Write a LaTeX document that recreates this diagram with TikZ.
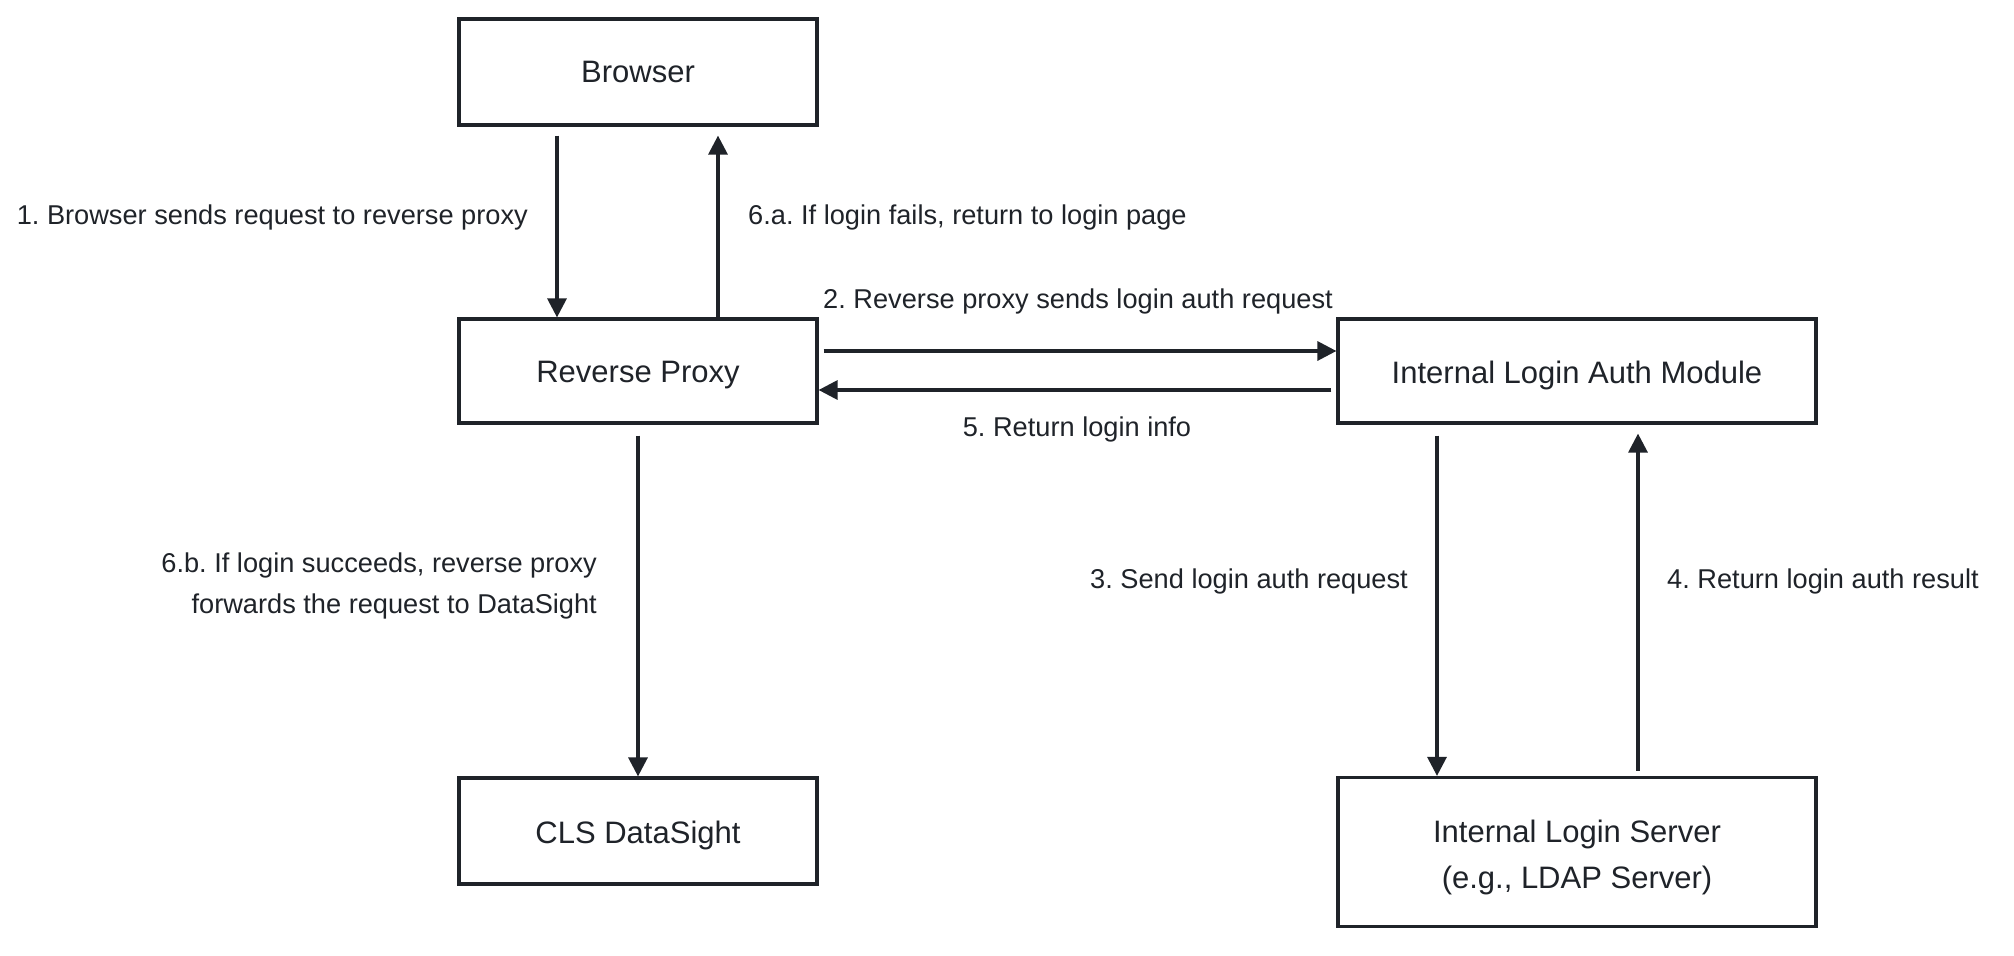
\documentclass[tikz,border=0pt]{standalone}
\usepackage{fontspec}
\setmainfont{Liberation Sans}
\usetikzlibrary{arrows.meta,calc}
\definecolor{ink}{HTML}{1F2329}
\frenchspacing
\newcommand{\lowtext}[1]{\raisebox{-4pt}[\height][\depth]{#1}}
\begin{document}
\begin{tikzpicture}[x=1pt,y=-1pt,
  box/.style={draw=ink,line width=3.2pt,rectangle,text=ink,font=\fontsize{31}{46}\selectfont,align=center,inner sep=0pt},
  arr/.style={draw=ink,line width=3.2pt,-{Triangle[length=19pt,width=19pt]}},
  lbl/.style={text=ink,font=\fontsize{27.2}{41}\selectfont,inner sep=0pt}]
\useasboundingbox[fill=white] (0,0) rectangle (2014,956);
\node[box,minimum width=358pt,minimum height=106pt] (browser) at (638,72) {Browser};
\node[box,minimum width=358pt,minimum height=104pt] (proxy) at (638,371) {\lowtext{Reverse Proxy}};
\node[box,minimum width=358pt,minimum height=106pt] (cls) at (638,831) {\lowtext{CLS DataSight}};
\node[box,minimum width=478pt,minimum height=104pt] (auth) at (1577,371) {\lowtext{Internal Login Auth Module}};
\node[box,minimum width=478pt,minimum height=149pt] (server) at (1577,852) {\raisebox{-4pt}[\height][\depth]{\begin{tabular}{@{}c@{}}Internal Login Server\\(e.g., LDAP Server)\end{tabular}}};

\draw[arr] ($(browser.south)+(-81,9)$) -- ($(proxy.north)+(-81,0)$);
\draw[arr] ($(proxy.north)+(80,0)$) -- ($(browser.south)+(80,9)$);
\draw[arr] ($(proxy.east)+(5,-20)$) -- ($(auth.west)+(0,-20)$);
\draw[arr] ($(auth.west)+(-5,19)$) -- ($(proxy.east)+(0,19)$);
\draw[arr] ($(proxy.south)+(0,11)$) -- (cls.north);
\draw[arr] ($(auth.south)+(-140,11)$) -- ($(server.north)+(-140,0)$);
\draw[arr] ($(server.north)+(61,-5)$) -- ($(auth.south)+(61,9)$);

\node[lbl,anchor=base east] (l1) at (528,224) {1. Browser sends request to reverse proxy};
\node[lbl,anchor=base west] (l6a) at (748,224) {6.a. If login fails, return to login page};
\node[lbl,anchor=base] (l2) at (1078,308) {2. Reverse proxy sends login auth request};
\node[lbl,anchor=base] (l5) at (1077,436) {5. Return login info};
\node[lbl,anchor=east,align=right] (l6b) at (597,586) {6.b. If login succeeds, reverse proxy\\forwards the request to DataSight};
\node[lbl,anchor=base east] (l3) at (1408,588) {3. Send login auth request};
\node[lbl,anchor=base west] (l4) at (1667,588) {4. Return login auth result};
\end{tikzpicture}
\end{document}
